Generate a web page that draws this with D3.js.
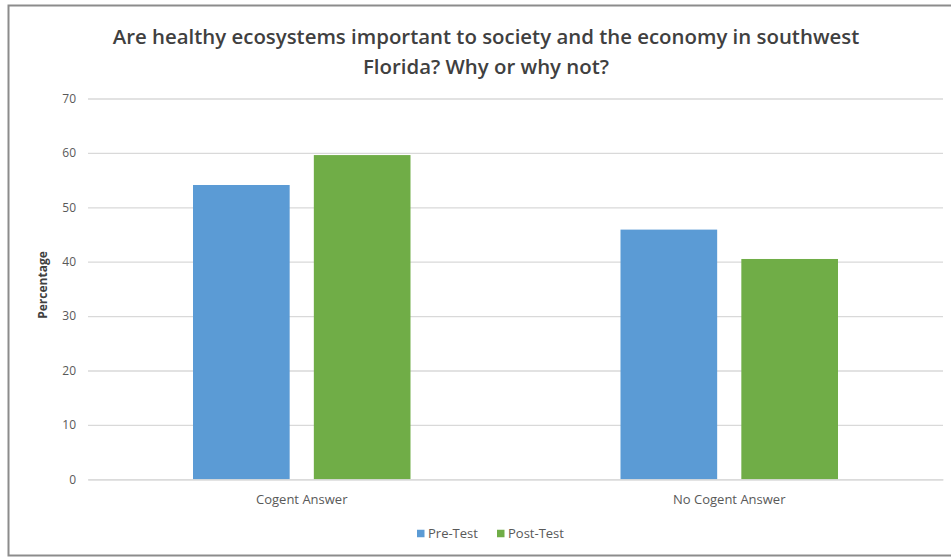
<!DOCTYPE html>
<html>
<head>
<meta charset="utf-8">
<script src="https://cdn.jsdelivr.net/npm/d3@7"></script>
<style>
  body { margin: 0; background: #fff; }
  text { font-family: "Open Sans", sans-serif; }
</style>
</head>
<body>
<script>
const categories = ['Cogent Answer', 'No Cogent Answer']
const seriesNames = ['Pre-Test', 'Post-Test']
const preTest = [54.1, 45.9]
const postTest = [59.6, 40.5]
const yTicks = [0, 10, 20, 30, 40, 50, 60, 70]
const colors = ['#5b9bd5', '#70ad47']

const w = 951
const h = 557
const padLeft = 88, padRight = 943, padTop = 98.5, padBottom = 479.3

const svg = d3.select('body')
     .append('svg')
     .attr('width', w)
     .attr('height', h)

// frame
svg.append('rect')
     .attr('x', 8.5).attr('y', 5.5)
     .attr('width', w).attr('height', h - 7)
     .attr('fill', 'none')
     .attr('stroke', '#8c8c8c')
     .attr('stroke-width', 2)

const yScale = d3.scaleLinear().domain([0, 70]).range([padBottom, padTop])
const xScale = d3.scaleBand().domain(categories).range([padLeft, padRight]).paddingInner(0).paddingOuter(0)
const xSub = d3.scaleBand().domain(seriesNames).range([105, xScale.bandwidth() - 105]).paddingInner(0.2)

// gridlines + tick labels
const yAxis = d3.axisLeft(yScale).tickValues(yTicks).tickSize(-(padRight - padLeft)).tickPadding(12)
const gy = svg.append('g')
     .attr('transform', 'translate(' + padLeft + ',0)')
     .call(yAxis)
gy.select('.domain').remove()
gy.selectAll('line').attr('stroke', '#d9d9d9').attr('stroke-width', 1.3)
gy.selectAll('text').attr('fill', '#595959').style('font-size', '12px').style('font-family', '"Open Sans", sans-serif')

// bars
const rows = categories.map((c, i) => ({ cat: c, vals: [preTest[i], postTest[i]] }))
const groups = svg.selectAll('g.cat')
     .data(rows)
     .enter()
     .append('g')
     .attr('class', 'cat')
     .attr('transform', d => 'translate(' + xScale(d.cat) + ',0)')
groups.selectAll('rect')
     .data(d => d.vals.map((v, j) => ({ name: seriesNames[j], v: v, j: j })))
     .enter()
     .append('rect')
     .attr('x', d => xSub(d.name))
     .attr('width', xSub.bandwidth())
     .attr('y', d => yScale(d.v))
     .attr('height', d => padBottom - yScale(d.v))
     .attr('fill', d => colors[d.j])

// x axis labels
const xAxis = d3.axisBottom(xScale).tickSize(0).tickPadding(15)
const gx = svg.append('g')
     .attr('transform', 'translate(0,' + padBottom + ')')
     .call(xAxis)
gx.select('.domain').attr('stroke', '#d9d9d9').attr('stroke-width', 1.3)
gx.selectAll('text').attr('fill', '#595959').style('font-size', '13px').style('font-family', '"Open Sans", sans-serif')

// title
const title = svg.append('text')
     .attr('text-anchor', 'middle')
     .attr('fill', '#404040')
     .style('font-size', '20.4px')
     .style('font-weight', 600)
title.append('tspan').attr('x', 486).attr('y', 44).text('Are healthy ecosystems important to society and the economy in southwest')
title.append('tspan').attr('x', 486).attr('y', 74).text('Florida? Why or why not?')

// y label
svg.append('text')
     .attr('transform', 'translate(47,285) rotate(-90)')
     .attr('text-anchor', 'middle')
     .attr('fill', '#404040')
     .style('font-size', '12px')
     .style('font-weight', 700)
     .text('Percentage')

// legend
const legend = svg.append('g').attr('transform', 'translate(417,533.5)')
const items = [{ name: seriesNames[0], x: 0 }, { name: seriesNames[1], x: 80 }]
items.forEach((it, i) => {
     legend.append('rect').attr('x', it.x).attr('y', -3.75).attr('width', 7.5).attr('height', 7.5).attr('fill', colors[i])
     legend.append('text').attr('x', it.x + 11).attr('y', 4.7)
          .attr('fill', '#595959').style('font-size', '13px').text(it.name)
})
</script>
</body>
</html>
